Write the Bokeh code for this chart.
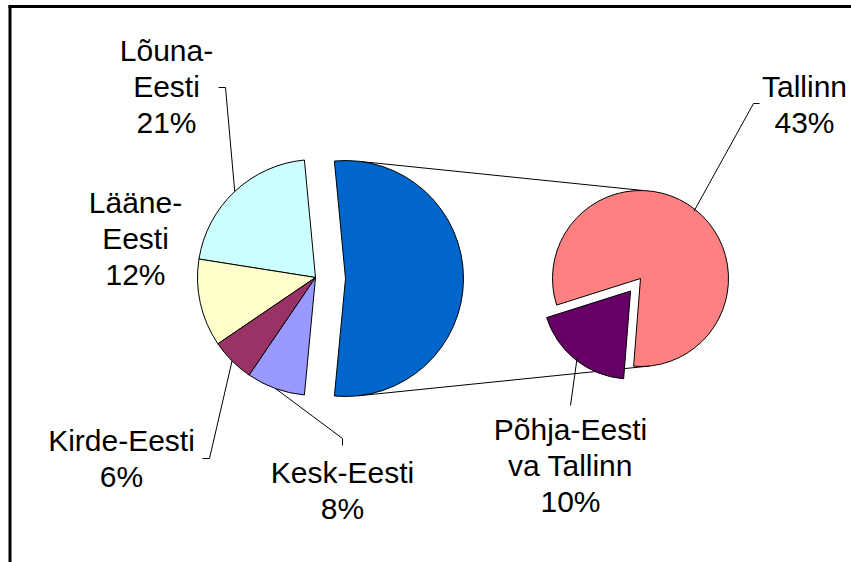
import numpy as np
from bokeh.plotting import figure
from bokeh.models import Range1d, ColumnDataSource
from bokeh.embed import file_html
from bokeh.resources import INLINE
from bokeh.core.properties import value

# ---------------- data ----------------
main_labels = ["Lõuna-Eesti", "Lääne-Eesti", "Kirde-Eesti", "Kesk-Eesti"]
main_label_lines = [["Lõuna-", "Eesti"], ["Lääne-", "Eesti"], ["Kirde-Eesti"], ["Kesk-Eesti"]]
main_values = [21, 12, 6, 8]
main_colors = ["#CCFFFF", "#FFFFCC", "#993366", "#9999FF"]

sub_labels = ["Tallinn", "Põhja-Eesti va Tallinn"]
sub_label_lines = [["Tallinn"], ["Põhja-Eesti", "va Tallinn"]]
sub_values = [43, 10]
sub_colors = ["#FF8080", "#660066"]
other_color = "#0066CC"

# ---------------- layout ----------------
W, H = 851, 562
def Y(v):  # image y -> data y
    return H - v

FONT = value("Liberation Sans")
FSIZE = value("30px")
LINE_H = 36

p = figure(width=W, height=H, output_backend="svg", toolbar_location=None,
           x_range=Range1d(0, W), y_range=Range1d(0, H),
           x_axis_location=None, y_axis_location=None, min_border=0)
p.grid.visible = False
p.outline_line_color = None
p.background_fill_color = "white"
p.border_fill_color = "white"

total = sum(main_values) + sum(sub_values)
other = sum(sub_values)

# main pie
C1 = (315, 277)
R1 = 118
other_span = 360.0 * other / total
start = other_span / 2
m_start, m_end = [], []
a = start
for v in main_values:
    m_start.append(a)
    a += 360.0 * v / total
    m_end.append(a)

# exploded "other" slice
C_other = (C1[0] + 30, 278)

# sub pie
C2 = (640, 278)
R2 = 88
sub_total = sum(sub_values)
pink_start = 265.5
pink_end = pink_start + 360.0 * sub_values[0] / sub_total
purple_start = pink_end - 360.0
purple_end = pink_start
purple_mid = np.deg2rad((purple_start + purple_end) / 2)
EXPL = 16
C_purple = (C2[0] + EXPL * np.cos(purple_mid), C2[1] - EXPL * np.sin(purple_mid))

# connector lines (behind)
def arc_pt(c, r, deg):
    t = np.deg2rad(deg)
    return c[0] + r * np.cos(t), c[1] - r * np.sin(t)

t1 = arc_pt(C_other, R1, 82); t2 = arc_pt(C2, R2, 88)
b1 = arc_pt(C_other, R1, -83.5); b2 = arc_pt(C2, R2, -84)
p.line([t1[0], t2[0]], [Y(t1[1]), Y(t2[1])], line_color="black", line_width=1)
p.line([b1[0], b2[0]], [Y(b1[1]), Y(b2[1])], line_color="black", line_width=1)

# main wedges
src = ColumnDataSource(dict(
    x=[C1[0]] * len(main_values), y=[Y(C1[1])] * len(main_values),
    s=np.deg2rad(m_start), e=np.deg2rad(m_end), c=main_colors))
p.wedge(x="x", y="y", radius=R1, start_angle="s", end_angle="e",
        fill_color="c", line_color="black", line_width=1, source=src)
p.wedge(x=C_other[0], y=Y(C_other[1]), radius=R1,
        start_angle=np.deg2rad(-other_span / 2), end_angle=np.deg2rad(other_span / 2),
        fill_color=other_color, line_color="black", line_width=1)

# sub wedges
p.wedge(x=C2[0], y=Y(C2[1]), radius=R2,
        start_angle=np.deg2rad(pink_start), end_angle=np.deg2rad(pink_end),
        fill_color=sub_colors[0], line_color="black", line_width=1)
p.wedge(x=C_purple[0], y=Y(C_purple[1]), radius=R2,
        start_angle=np.deg2rad(purple_start), end_angle=np.deg2rad(purple_end),
        fill_color=sub_colors[1], line_color="black", line_width=1)

# labels: (center x, first baseline y)
def draw_label(lines, pct, cx, by):
    texts = lines + [f"{pct}%"]
    p.text(x=[cx] * len(texts), y=[Y(by + i * LINE_H) for i in range(len(texts))],
           text=texts, text_font=FONT, text_font_size=FSIZE, text_color="black",
           text_align="center", text_baseline="alphabetic")

def leader(pts, anchor):
    xs = [q[0] for q in pts] + [anchor[0]]
    ys = [Y(q[1]) for q in pts] + [Y(anchor[1])]
    p.line(xs, ys, line_color="black", line_width=1)

main_label_pos = [(166, 50), (135, 202), (121, 440), (342, 472)]
main_leaders = [[(218, 87), (225, 87)], None, [(202, 458), (209, 458)], [(342, 445), (342, 438)]]
for i, v in enumerate(main_values):
    draw_label(main_label_lines[i], v, *main_label_pos[i])
    if main_leaders[i]:
        mid = (m_start[i] + m_end[i]) / 2
        leader(main_leaders[i], arc_pt(C1, R1, mid))

sub_label_pos = [(804, 86), (570, 429)]
sub_leaders = [[(759, 103), (753, 103)], [(570, 405)]]
sub_mids = [(pink_start + pink_end) / 2, (purple_start + purple_end) / 2]
sub_centers = [C2, C_purple]
for i, v in enumerate(sub_values):
    draw_label(sub_label_lines[i], v, *sub_label_pos[i])
    leader(sub_leaders[i], arc_pt(sub_centers[i], R2 - 2, sub_mids[i]))

# chart frame (top and left visible)
p.line([9.5, 9.5], [0, Y(5)], line_color="black", line_width=3)
p.line([8, W], [Y(6), Y(6)], line_color="black", line_width=3)

open("out.html", "w").write(file_html(p, INLINE))
